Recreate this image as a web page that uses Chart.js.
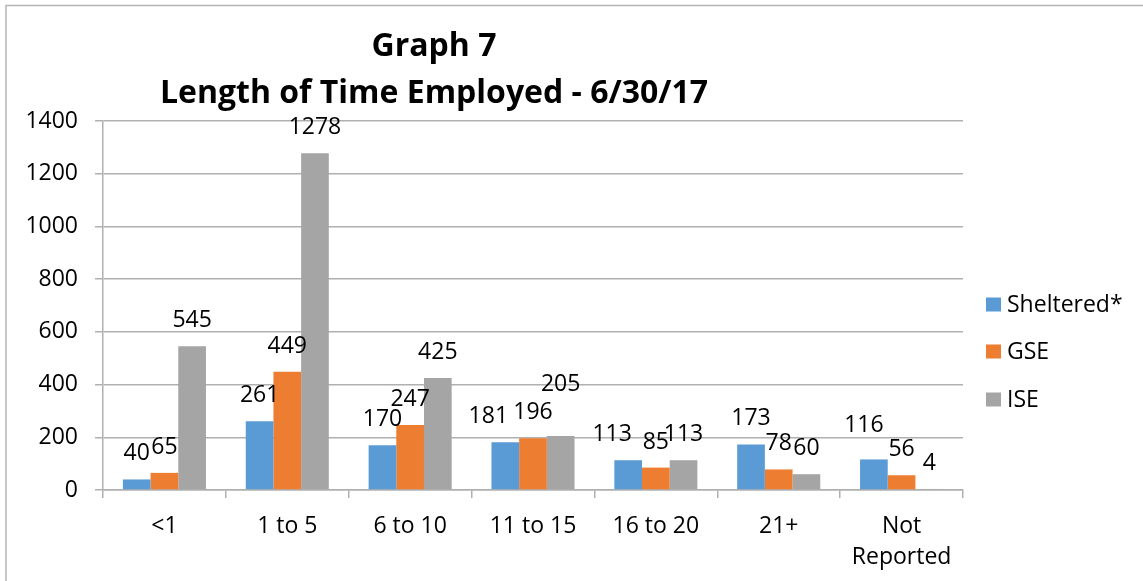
<!DOCTYPE html>
<html>
<head>
<meta charset="utf-8">
<script src="https://cdn.jsdelivr.net/npm/chart.js@4/dist/chart.umd.min.js"></script>
<style>
  html, body { margin: 0; padding: 0; background: #fff; }
  #wrap { position: relative; width: 1143px; height: 581px; }
</style>
</head>
<body>
<div id="wrap"><canvas id="c" width="1143" height="581"></canvas></div>
<script>
const categories = ['<1', '1 to 5', '6 to 10', '11 to 15', '16 to 20', '21+', ['Not', 'Reported']];
const seriesNames = ['Sheltered*', 'GSE', 'ISE'];
const sheltered = [40, 261, 170, 181, 113, 173, 116];
const gse = [65, 449, 247, 196, 85, 78, 56];
const ise = [545, 1278, 425, 205, 113, 60, 4];
const yTicks = [0, 200, 400, 600, 800, 1000, 1200, 1400];
const titleLines = ['Graph 7', 'Length of Time Employed - 6/30/17'];

// manual label nudges (style only): [datasetIndex, categoryIndex, dx, dy]
const labelNudges = [[0, 3, -17, 0], [0, 4, -16, 0], [0, 6, -10, -8], [2, 3, 0, -26]];

const colors = ['#5b9bd5', '#ed7d31', '#a5a5a5'];
const FONT = "'Open Sans', 'Liberation Sans', sans-serif";
const FS = 23;

const decor = {
  id: 'decor',
  afterDraw(chart) {
    const ctx = chart.ctx;
    ctx.save();
    // border
    ctx.strokeStyle = '#b5b5b5';
    ctx.lineWidth = 1.5;
    ctx.strokeRect(6, 5.5, 1200, 700);
    // title
    ctx.fillStyle = '#000';
    ctx.font = 'bold 32px ' + FONT;
    ctx.textAlign = 'center';
    ctx.textBaseline = 'alphabetic';
    ctx.fillText(titleLines[0], 434, 56);
    ctx.fillText(titleLines[1], 434, 103);
    // data labels
    ctx.font = FS + 'px ' + FONT;
    ctx.textBaseline = 'alphabetic';
    chart.data.datasets.forEach((ds, di) => {
      const meta = chart.getDatasetMeta(di);
      meta.data.forEach((bar, i) => {
        let dx = 0, dy = 0;
        labelNudges.forEach(n => { if (n[0] === di && n[1] === i) { dx = n[2]; dy = n[3]; } });
        ctx.fillText(String(ds.data[i]), bar.x + dx, bar.y - 19 + dy);
      });
    });
    // legend
    ctx.textAlign = 'left';
    ctx.textBaseline = 'middle';
    const ys = [304.5, 351.5, 399.5];
    chart.data.datasets.forEach((ds, di) => {
      ctx.fillStyle = ds.backgroundColor;
      ctx.fillRect(986, ys[di] - 7, 15, 14);
      ctx.fillStyle = '#000';
      ctx.fillText(ds.label, 1007, ys[di] + 1);
    });
    ctx.restore();
  }
};

new Chart(document.getElementById('c'), {
  type: 'bar',
  data: {
    labels: categories,
    datasets: [
      { label: seriesNames[0], data: sheltered, backgroundColor: colors[0] },
      { label: seriesNames[1], data: gse, backgroundColor: colors[1] },
      { label: seriesNames[2], data: ise, backgroundColor: colors[2] }
    ]
  },
  options: {
    responsive: false,
    animation: false,
    devicePixelRatio: 1,
    layout: { padding: { left: 0, right: 180, top: 121, bottom: 0 } },
    plugins: { legend: { display: false }, title: { display: false }, tooltip: { enabled: false } },
    datasets: { bar: { categoryPercentage: 0.676, barPercentage: 1.0 } },
    scales: {
      x: {
        afterFit(s) { s.height = 91; },
        grid: { offset: true, drawOnChartArea: false, tickLength: 8, color: '#b0b0b0', lineWidth: 1.5 },
        border: { display: true, color: '#b0b0b0', width: 1.5 },
        ticks: { color: '#000', padding: 13, font: { family: FONT, size: FS, lineHeight: 1.35 }, maxRotation: 0, autoSkip: false }
      },
      y: {
        min: 0, max: 1400,
        afterFit(s) { s.width = 103; },
        afterBuildTicks(s) { s.ticks = yTicks.map(v => ({ value: v })); },
        grid: { tickLength: 8, color: '#b0b0b0', lineWidth: 1.5 },
        border: { display: true, color: '#b0b0b0', width: 1.5 },
        ticks: { color: '#000', padding: 17, font: { family: FONT, size: FS }, callback: v => String(v) }
      }
    }
  },
  plugins: [decor]
});
</script>
</body>
</html>
